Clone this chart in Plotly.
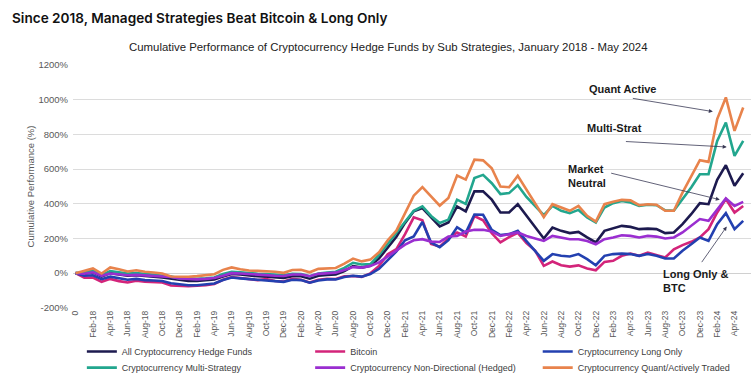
import plotly.graph_objects as go

# ---------------- data ----------------
months = ["0"] + [f"{m}-{y}" for y in range(18, 25) for m in
                  ["Jan", "Feb", "Mar", "Apr", "May", "Jun", "Jul", "Aug", "Sep", "Oct", "Nov", "Dec"]]
months = months[:78]  # "0" then Jan-18 .. May-24

all_hf = [0, -5, 5, -20, 0, -8, -15, -12, -18, -20, -25, -32, -42, -45, -45, -42, -36, -20, -5, -8,
          -14, -18, -20, -25, -28, -18, -18, -32, -15, -10, -8, 12, 40, 32, 42, 85, 145, 210, 290, 357,
          376, 320, 270, 293, 385, 357, 472, 472, 424, 350, 350, 398, 330, 265, 200, 263, 244, 231, 238, 206,
          177, 244, 257, 273, 267, 254, 257, 254, 231, 235, 283, 340, 404, 398, 538, 623, 504, 577]

bitcoin = [0, -26, -25, -50, -33, -46, -54, -44, -49, -52, -54, -71, -73, -75, -72, -70, -62, -38, -22, -27,
           -31, -40, -34, -45, -48, -33, -38, -54, -38, -32, -34, -18, -16, -22, -1, 42, 109, 139, 225, 322,
           305, 169, 153, 200, 235, 212, 330, 305, 230, 178, 208, 232, 173, 130, 42, 67, 46, 38, 45, 27,
           17, 65, 71, 100, 113, 100, 119, 104, 90, 138, 162, 181, 206, 254, 350, 427, 350, 388]

long_only = [0, -15, -12, -35, -20, -30, -38, -33, -40, -42, -45, -58, -66, -70, -70, -67, -60, -40, -25, -30,
             -34, -40, -40, -47, -50, -38, -40, -55, -42, -36, -36, -22, -15, -20, -5, 25, 75, 125, 190, 212,
             295, 177, 150, 190, 265, 233, 338, 337, 250, 220, 225, 244, 185, 125, 71, 110, 100, 96, 110, 81,
             46, 100, 110, 113, 110, 100, 110, 100, 85, 85, 129, 167, 206, 186, 283, 346, 254, 302]

multi_strat = [0, 5, 15, -10, 12, 5, -2, 0, -5, -8, -12, -20, -30, -32, -33, -30, -25, -5, 8, 5,
               0, -3, -5, -10, -12, -3, -5, -18, -2, 3, 8, 30, 60, 50, 52, 105, 170, 230, 300, 360,
               385, 330, 290, 309, 424, 400, 549, 567, 519, 456, 462, 508, 440, 385, 335, 388, 360, 346, 365, 321,
               292, 379, 404, 416, 408, 388, 395, 392, 363, 360, 427, 494, 571, 571, 763, 869, 677, 763]

non_directional = [0, -3, 5, -15, -2, -8, -12, -10, -12, -15, -18, -22, -30, -35, -36, -33, -28, -15, 0, -2,
                   -6, -10, -12, -15, -16, -8, -8, -18, -4, 0, 3, 18, 35, 32, 42, 62, 95, 129, 165, 190,
                   196, 182, 180, 212, 215, 240, 250, 250, 240, 215, 225, 235, 215, 200, 186, 215, 206, 196, 196, 186,
                   167, 196, 206, 219, 215, 206, 215, 211, 200, 206, 235, 273, 312, 302, 369, 431, 388, 411]

quant = [0, 13, 27, -2, 33, 23, 10, 17, 8, 4, -2, -19, -21, -21, -17, -12, -6, 19, 33, 23,
         15, 13, 12, 8, 2, 18, 20, 5, 25, 28, 30, 55, 84, 68, 78, 120, 190, 245, 345, 447,
         497, 443, 390, 434, 563, 540, 655, 651, 605, 500, 496, 562, 480, 400, 323, 398, 380, 360, 388, 331,
         298, 398, 412, 423, 420, 392, 398, 395, 360, 360, 465, 562, 652, 642, 889, 1014, 821, 956]

series_names = ["All Cryptocurrency Hedge Funds", "Bitcoin", "Cryptocurrency Long Only",
                "Cryptocurrency Multi-Strategy", "Cryptocurrency Non-Directional (Hedged)",
                "Cryptocurrency Quant/Actively Traded"]
series_values = [all_hf, bitcoin, long_only, multi_strat, non_directional, quant]
series_colors = ["#1d1a4f", "#d3247a", "#2340b0", "#22a68e", "#9a2ed0", "#e8834c"]

y_ticks = [-200, 0, 200, 400, 600, 800, 1000, 1200]
y_tick_labels = [f"{v}%" for v in y_ticks]

# ---------------- figure ----------------
xs = list(range(len(months)))
fig = go.Figure()
legend_ids = ["legend"] + [f"legend{k}" for k in range(2, 7)]
for name, vals, col, lg in zip(series_names, series_values, series_colors, legend_ids):
    fig.add_trace(go.Scatter(x=xs, y=vals, mode="lines", name=name, legend=lg,
                             line=dict(color=col, width=2.6)))

col_x = [0.109, 0.413, 0.716]
row_y = [0.120, 0.078]
legends = {}
for k, lg in enumerate(legend_ids):
    legends[lg] = dict(orientation="h", xref="container", yref="container",
                       xanchor="left", yanchor="top", x=col_x[k % 3], y=row_y[k // 3],
                       font=dict(size=9, color="#404040"), bgcolor="rgba(0,0,0,0)")

fig.update_layout(
    width=751, height=383,
    margin=dict(l=73, r=0, t=65, b=75),
    paper_bgcolor="white", plot_bgcolor="white",
    title=dict(text="Since 2018, Managed Strategies Beat Bitcoin & Long Only",
               x=0.016, xanchor="left", y=0.952, yanchor="middle",
               font=dict(family="Inter", size=13.6, color="#111111", weight=600)),
    font=dict(family="Liberation Sans, Arial", color="#595959"),
    showlegend=True,
    xaxis=dict(range=[-0.3, 77.9], tickmode="array", tickvals=xs[::2], ticktext=months[::2],
               tickangle=-90, tickfont=dict(size=8.5, color="#595959"),
               showgrid=False, zeroline=False, showline=False, ticks="", automargin=False),
    yaxis=dict(range=[-201, 1201], tickmode="array", tickvals=y_ticks, ticktext=y_tick_labels,
               tickfont=dict(size=9.5, color="#595959"), ticks="", ticklabelstandoff=4,
               showgrid=True, gridcolor="#dcdcdc", gridwidth=1, automargin=False,
               zeroline=True, zerolinecolor="#d0d0d0", zerolinewidth=1,
               title=dict(text="Cumulative Performance (%)", standoff=2,
                          font=dict(size=9.5, color="#595959"))),
    **legends,
)

# subtitle
fig.add_annotation(text="Cumulative Performance of Cryptocurrency Hedge Funds by Sub Strategies, January 2018 - May 2024",
                   xref="paper", yref="paper", x=0.465, y=(308 - 48) / 242.5,
                   xanchor="center", yanchor="middle", showarrow=False,
                   font=dict(family="Liberation Sans, Arial", size=11.4, color="#222222"))

# callout labels
lab_font = dict(family="Liberation Sans, Arial", size=11, color="#1a1a1a")
callouts = [("<b>Quant Active</b>", 59.0, 1064),
            ("<b>Multi-Strat</b>", 58.75, 839),
            ("<b>Market<br>Neutral</b>", 56.56, 562),
            ("<b>Long Only &<br>BTC</b>", 67.5, -44)]
for txt, cx, cy in callouts:
    fig.add_annotation(text=txt, x=cx, y=cy, xref="x", yref="y", showarrow=False,
                       xanchor="left", yanchor="middle", align="left", font=lab_font)

# arrows (tail -> head)
arrows = [((64.1, 1010), (73.5, 932)),
          ((63.3, 760), (75.1, 728)),
          ((61.6, 579), (74.3, 424)),
          ((72.1, 55), (75.1, 269))]
for (tx, ty), (hx, hy) in arrows:
    fig.add_annotation(text="", x=hx, y=hy, ax=tx, ay=ty, xref="x", yref="y",
                       axref="x", ayref="y", showarrow=True, arrowhead=2,
                       arrowsize=1, arrowwidth=0.8, arrowcolor="#3a3a55", standoff=0)

fig.write_html("out.html", config={"displayModeBar": False},
               post_script="document.body.style.margin='0';")
